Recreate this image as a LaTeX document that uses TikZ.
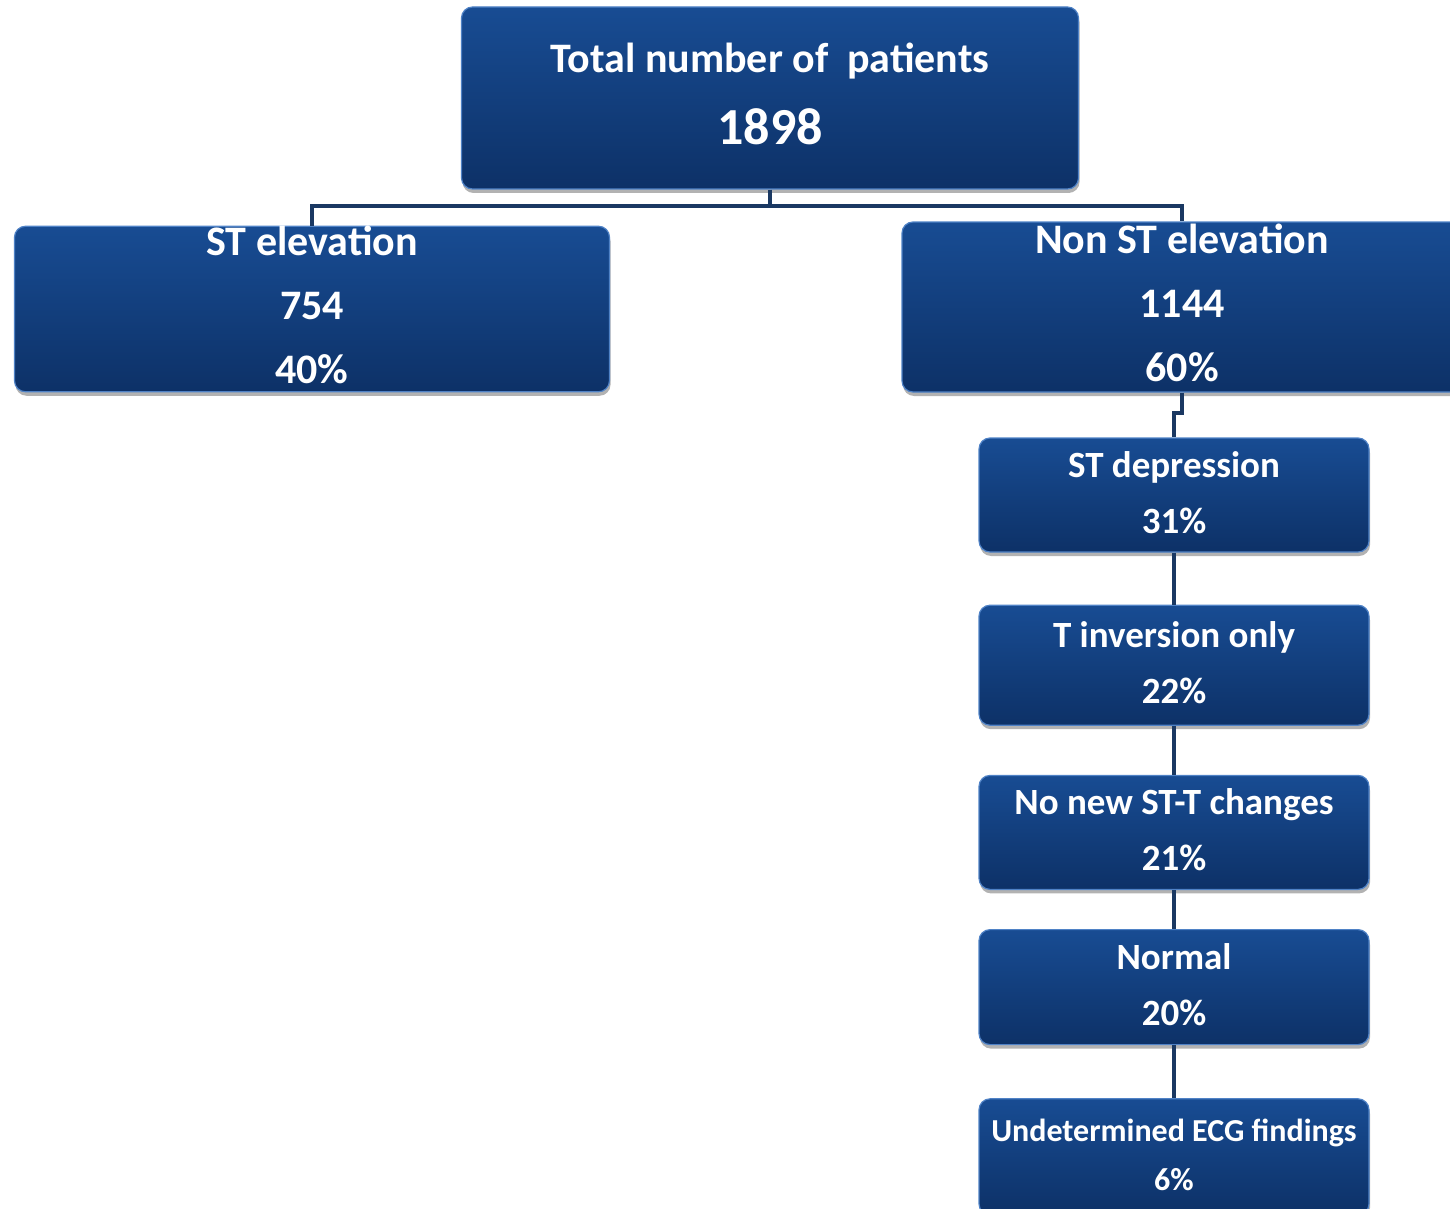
\documentclass[tikz,border=0pt]{standalone}
\usepackage{fontspec}
\setmainfont{Carlito}
\usepackage{tikz}
\usetikzlibrary{positioning}
\usetikzlibrary{shadows}
\definecolor{boxtop}{HTML}{184C93}
\definecolor{boxbot}{HTML}{0D3167}
\definecolor{boxrim}{HTML}{4F82C6}
\definecolor{wire}{HTML}{1A3862}
\tikzstyle{panel}=[
   rectangle,
   rounded corners=11pt,
   draw=boxrim,
   line width=1.2pt,
   top color=boxtop,
   bottom color=boxbot,
   text=white,
   align=center,
   inner ysep=0pt,
   text depth=8pt,
   font=\bfseries\fontsize{42}{64}\selectfont,
   drop shadow={shadow xshift=1pt,shadow yshift=-4pt,opacity=0.3,fill=black}
]
\tikzstyle{subpanel}=[
   panel,
   minimum width=390pt,
   text depth=5pt,
   font=\bfseries\fontsize{37}{56}\selectfont
]
\tikzstyle{link}=[draw=wire,line width=4pt]

\begin{document}
\begin{tikzpicture}[x=1pt,y=-1pt]
  \useasboundingbox (0,0) rectangle (1450,1209);

  \node[panel,minimum width=617pt,minimum height=182pt,font=\bfseries\fontsize{42}{72}\selectfont] (total) at (770,98) {Total number of~ patients\\{\fontsize{52}{72}\selectfont 1898}};
  \node[panel,minimum width=595pt,minimum height=165pt] (stel)  at (312,309)  {ST elevation\\754\\40\%};
  \node[panel,minimum width=560pt,minimum height=170pt] (nonst) at (1182,307) {Non ST elevation\\1144\\60\%};

  \node[subpanel,minimum height=114pt] (dep)    at (1174,495)          {ST depression\\31\%};
  \node[subpanel,minimum height=120pt] (tinv)   [below=52pt of dep]    {T inversion only\\22\%};
  \node[subpanel,minimum height=114pt] (nochg)  [below=49pt of tinv]   {No new ST-T changes\\21\%};
  \node[subpanel,minimum height=115pt] (normal) [below=39pt of nochg]  {Normal\\20\%};
  \node[subpanel,minimum height=116pt,font=\bfseries\fontsize{32}{49}\selectfont] (undet) [below=53pt of normal] {Undetermined ECG findings\\6\%};

  \coordinate (split) at (770,206);
  \coordinate (jog)   at (1182,413);

  \path[link] (total.south) -- (split) -| (stel.north)
              (split) -| (nonst.north);
  \path[link] (nonst.south) -- (jog) -| (dep.north);

  \path[link] (dep.south)    -- (tinv.north)
              (tinv.south)   -- (nochg.north)
              (nochg.south)  -- (normal.north)
              (normal.south) -- (undet.north);

\end{tikzpicture}
\end{document}
